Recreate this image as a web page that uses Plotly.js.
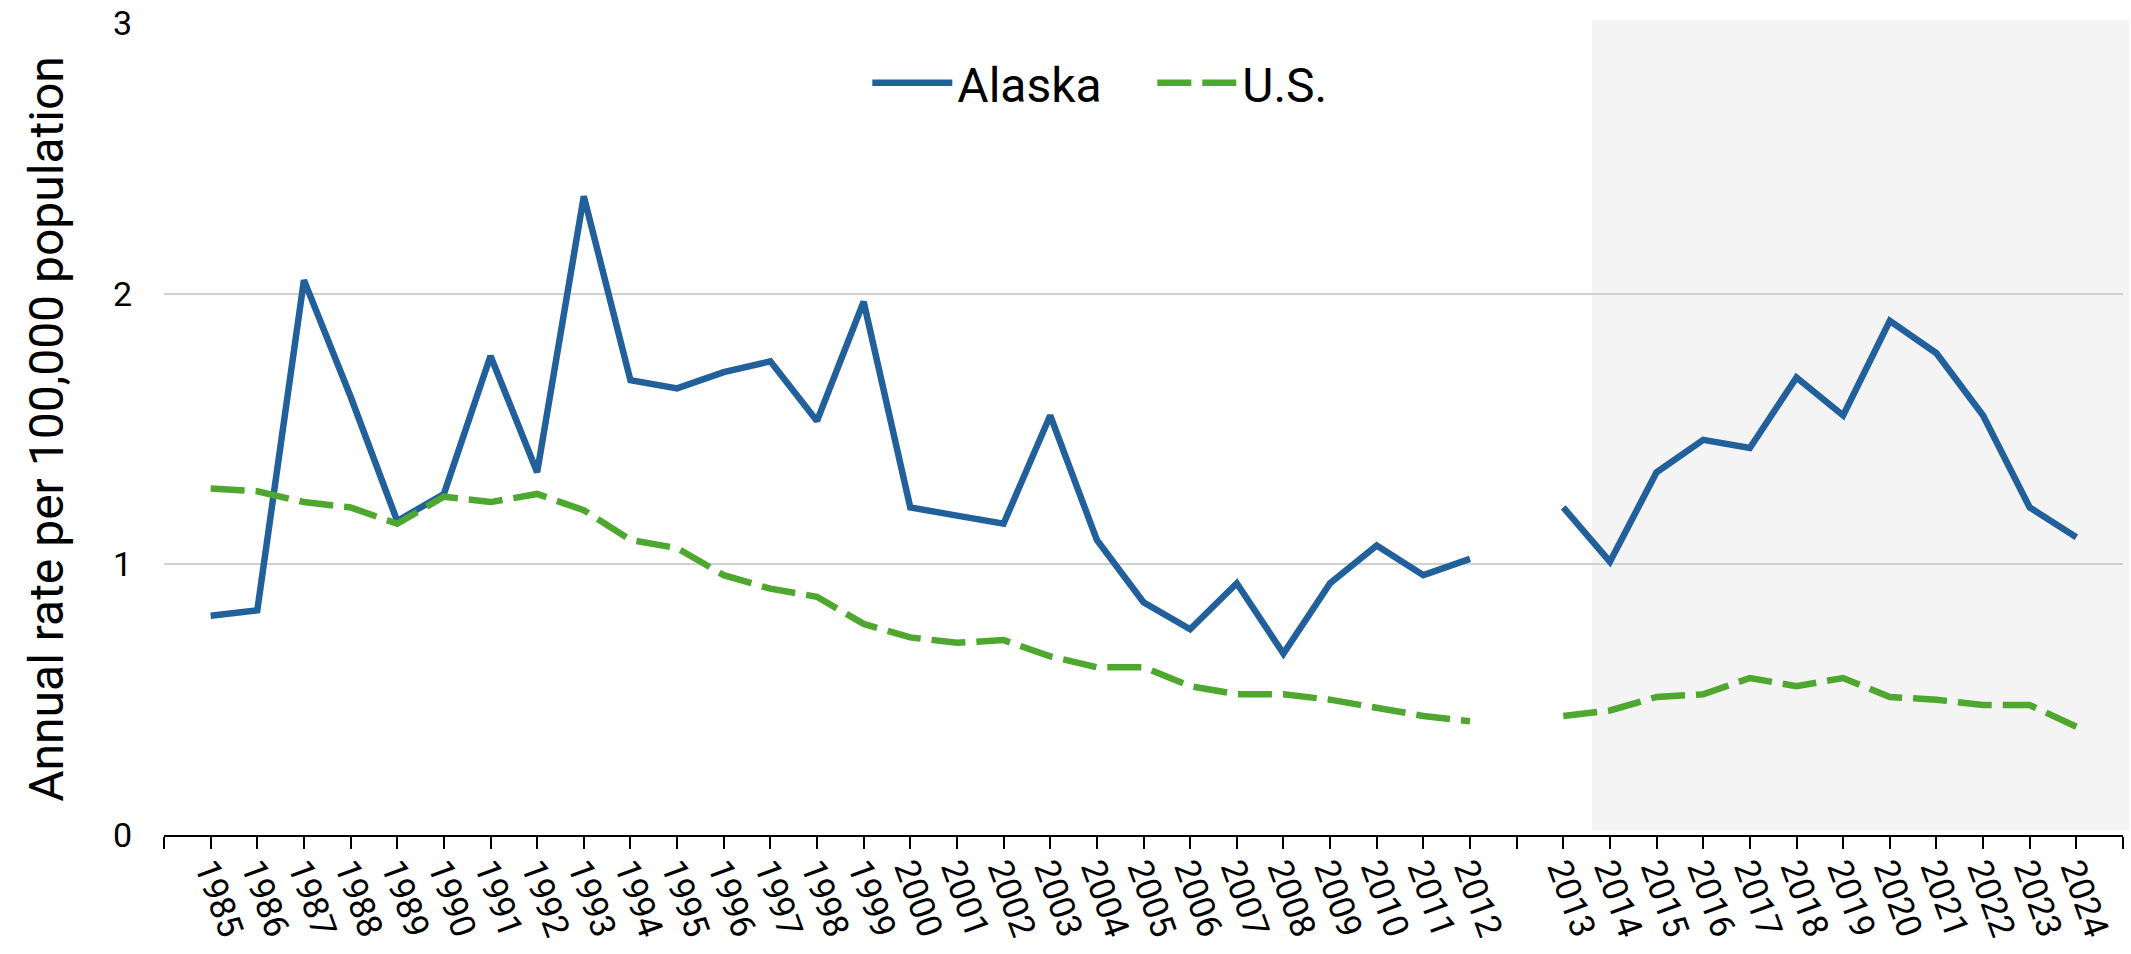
<!DOCTYPE html>
<html>
<head>
<meta charset="utf-8">
<script src="https://cdn.plot.ly/plotly-3.0.1.min.js"></script>
<style>
  html, body { margin: 0; padding: 0; background: #ffffff; }
  #chart { width: 2131px; height: 954px; }
</style>
</head>
<body>
<div id="chart"></div>
<script>
// ---- Data ----
const yearsA = ["1985","1986","1987","1988","1989","1990","1991","1992","1993","1994",
                "1995","1996","1997","1998","1999","2000","2001","2002","2003","2004",
                "2005","2006","2007","2008","2009","2010","2011","2012"];
const yearsB = ["2013","2014","2015","2016","2017","2018","2019","2020","2021","2022","2023","2024"];

const alaskaA = [0.81,0.83,2.05,1.62,1.16,1.26,1.77,1.34,2.36,1.68,
                 1.65,1.71,1.75,1.53,1.97,1.21,1.18,1.15,1.55,1.09,
                 0.86,0.76,0.93,0.67,0.93,1.07,0.96,1.02];
const alaskaB = [1.21,1.01,1.34,1.46,1.43,1.69,1.55,1.90,1.78,1.55,1.21,1.10];

const usA = [1.28,1.27,1.23,1.21,1.15,1.25,1.23,1.26,1.20,1.09,
             1.06,0.96,0.91,0.88,0.78,0.73,0.71,0.72,0.66,0.62,
             0.62,0.55,0.52,0.52,0.50,0.47,0.44,0.42];
const usB = [0.44,0.46,0.51,0.52,0.58,0.55,0.58,0.51,0.50,0.48,0.48,0.40];

// Blank spacer categories: one before the first year, one between the two periods, one after the last year
const spacerStart = " ";
const spacerGap = "  ";
const spacerEnd = "   ";

const categories = [spacerStart, ...yearsA, spacerGap, ...yearsB, spacerEnd];
const alaskaY = [null, ...alaskaA, null, ...alaskaB, null];
const usY = [null, ...usA, null, ...usB, null];

const yTickVals = [0, 1, 2, 3];

const colAlaska = "#22609b";
const colUS = "#4ea72e";

const traces = [
  {
    type: "scatter", mode: "lines", name: "Alaska",
    x: categories, y: alaskaY, connectgaps: false,
    line: { color: colAlaska, width: 6.5, shape: "linear" },
    hoverinfo: "skip"
  },
  {
    type: "scatter", mode: "lines", name: "U.S.",
    x: categories, y: usY, connectgaps: false,
    line: { color: colUS, width: 6.5, dash: "34px,11px" },
    hoverinfo: "skip"
  }
];

const layout = {
  width: 2131, height: 954,
  margin: { l: 164, r: 8, t: 23, b: 119, pad: 0 },
  paper_bgcolor: "#ffffff",
  plot_bgcolor: "rgba(0,0,0,0)",
  font: { family: "Roboto, 'Noto Sans', sans-serif", color: "#000000", size: 34 },
  showlegend: true,
  legend: {
    orientation: "h",
    x: 0.5045, xanchor: "center",
    y: 0.926, yanchor: "middle",
    font: { size: 48, color: "#000000" },
    itemwidth: 80,
    entrywidth: 190,
    entrywidthmode: "pixels",
    bgcolor: "rgba(0,0,0,0)",
    traceorder: "normal"
  },
  xaxis: {
    type: "category",
    categoryorder: "array",
    categoryarray: categories,
    range: [0, categories.length - 1],
    showgrid: false,
    zeroline: false,
    showline: true, linecolor: "#000000", linewidth: 2,
    ticks: "outside", ticklen: 12, tickwidth: 2, tickcolor: "#000000",
    tickangle: 70,
    ticklabelstandoff: -14,
    tickfont: { size: 35, color: "#000000" },
    fixedrange: true
  },
  yaxis: {
    range: [0, 3],
    tickvals: yTickVals,
    showgrid: true, gridcolor: "#d0d0d0", gridwidth: 2,
    zeroline: false,
    showline: false,
    ticks: "",
    ticklabelstandoff: 31,
    tickfont: { size: 34, color: "#000000" },
    title: { text: "Annual rate per 100,000 population", font: { size: 48, color: "#000000" }, standoff: 34 },
    fixedrange: true
  },
  shapes: [
    {
      type: "rect", xref: "paper", yref: "paper",
      x0: 0.729, x1: 1.003, y0: 0.006, y1: 1.004,
      fillcolor: "#f4f4f4", line: { width: 0 }, layer: "below"
    }
  ]
};

Plotly.newPlot("chart", traces, layout, { staticPlot: true, displayModeBar: false });
</script>
</body>
</html>
